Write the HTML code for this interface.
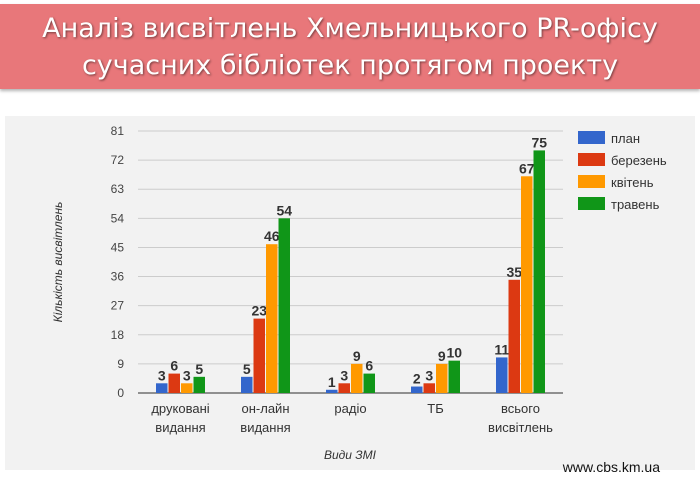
<!DOCTYPE html>
<html><head><meta charset="utf-8"><style>
body{margin:0;width:700px;height:489px;background:#fff;overflow:hidden;font-family:"Liberation Sans",sans-serif}
#banner{position:absolute;left:0;top:4px;width:700px;height:85px;background:#e8777a;box-shadow:0 2px 3px rgba(0,0,0,.3);color:#fff;text-align:center;font-family:"DejaVu Sans","Liberation Sans",sans-serif;font-size:27px;line-height:37px;text-shadow:1px 1px 2px rgba(0,0,0,.5);padding-top:6px;box-sizing:border-box}
#panel{position:absolute;left:5px;top:116px;width:690px;height:354px;background:#f2f2f2}
</style></head><body>
<div id="banner">Аналіз висвітлень Хмельницького PR-офісу<br>сучасних бібліотек протягом проекту</div>
<div id="panel"></div>
<svg id="chart" width="700" height="489" style="position:absolute;left:0;top:0" font-family="Liberation Sans, sans-serif"></svg>
<script>
const categories=[["друковані","видання"],["он-лайн","видання"],["радіо"],["ТБ"],["всього","висвітлень"]];
const seriesNames=["план","березень","квітень","травень"];
const plan=[3,5,1,2,11];
const march=[6,23,3,3,35];
const april=[3,46,9,9,67];
const may=[5,54,6,10,75];
const yTicks=[0,9,18,27,36,45,54,63,72,81];
const colors=["#3366cc","#dc3912","#ff9900","#109618"];
const series=[plan,march,april,may];
const NS="http://www.w3.org/2000/svg";
const svg=document.getElementById('chart');
const x0=138,x1=563,yZero=393,yTop=131,yMax=81;
const y=v=>yZero-(v/yMax)*(yZero-yTop);
const groupW=(x1-x0)/categories.length;
const cx=i=>x0+groupW*(i+0.5);
const barW=11.5,step=12.5;
function mk(t,a,txt){const e=document.createElementNS(NS,t);for(const k in a)e.setAttribute(k,a[k]);if(txt!==undefined)e.textContent=txt;svg.appendChild(e);return e;}
yTicks.forEach(v=>{
 const g=mk('line',{x1:x0,x2:x1,y1:y(v),y2:y(v),stroke:v===0?'#555':'#ccc','stroke-width':v===0?1.2:1});
 
 
 const t=mk('text',{x:124,y:y(v)+4,'text-anchor':'end','font-size':12,fill:'#444'},v);
 
 
});
categories.forEach((c,i)=>{
 series.forEach((s,j)=>{
  const bx=cx(i)-2*step+j*step+(step-barW)/2;
  const r=mk('rect',{x:bx,y:y(s[i]),width:barW,height:yZero-y(s[i]),fill:colors[j]});
  
  
  const t=mk('text',{x:bx+barW/2,y:y(s[i])-3,'text-anchor':'middle','font-size':14,'font-weight':'bold',fill:'#333'},s[i]);
  
  
 });
 c.forEach((line,k)=>{
  const t=mk('text',{x:cx(i),y:413+k*19,'text-anchor':'middle','font-size':13,fill:'#333'},line);
  
  
 });
});
seriesNames.forEach((n,j)=>{
 const r=mk('rect',{x:578,y:131+j*22,width:27,height:13,fill:colors[j]});
 
 
 const t=mk('text',{x:611,y:143+j*22,'font-size':13,fill:'#333'},n);
 
 
});
let t=mk('text',{x:350,y:459,'text-anchor':'middle','font-size':12,'font-style':'italic',fill:'#333'},'Види ЗМІ');


t=mk('text',{x:0,y:0,transform:'translate(62,262) rotate(-90)','text-anchor':'middle','font-size':12,'font-style':'italic',fill:'#333'},'Кількість висвітлень');


t=mk('text',{x:660,y:472,'text-anchor':'end','font-size':14,fill:'#111'},'www.cbs.km.ua');


</script>
</body></html>
